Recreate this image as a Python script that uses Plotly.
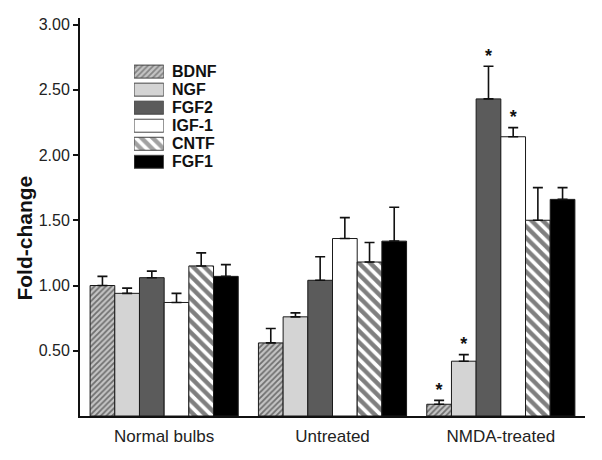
import plotly.graph_objects as go

groups = ["Normal bulbs", "Untreated", "NMDA-treated"]
series = ["BDNF", "NGF", "FGF2", "IGF-1", "CNTF", "FGF1"]

BDNF = [1.00, 0.56, 0.09]
NGF = [0.94, 0.76, 0.42]
FGF2 = [1.06, 1.04, 2.43]
IGF1 = [0.87, 1.36, 2.14]
CNTF = [1.15, 1.18, 1.50]
FGF1 = [1.07, 1.34, 1.66]

BDNF_err = [0.07, 0.11, 0.03]
NGF_err = [0.04, 0.03, 0.05]
FGF2_err = [0.05, 0.18, 0.25]
IGF1_err = [0.07, 0.16, 0.07]
CNTF_err = [0.10, 0.15, 0.25]
FGF1_err = [0.09, 0.26, 0.09]

# significance marks (True = asterisk above error bar)
BDNF_sig = [False, False, True]
NGF_sig = [False, False, True]
FGF2_sig = [False, False, True]
IGF1_sig = [False, False, True]
CNTF_sig = [False, False, False]
FGF1_sig = [False, False, False]

y_ticks = [0.5, 1.0, 1.5, 2.0, 2.5, 3.0]
y_title = "Fold-change"

values = [BDNF, NGF, FGF2, IGF1, CNTF, FGF1]
errors = [BDNF_err, NGF_err, FGF2_err, IGF1_err, CNTF_err, FGF1_err]
sigs = [BDNF_sig, NGF_sig, FGF2_sig, IGF1_sig, CNTF_sig, FGF1_sig]

styles = [
    dict(color="#c4c4c4", pattern=dict(shape="/", fgcolor="#1a1a1a", bgcolor="#c4c4c4", size=4, solidity=0.45)),
    dict(color="#d4d4d4", pattern=dict(shape="")),
    dict(color="#5b5b5b", pattern=dict(shape="")),
    dict(color="#ffffff", pattern=dict(shape="")),
    dict(color="#ffffff", pattern=dict(shape="\\", fgcolor="#000000", bgcolor="#ffffff", size=8, solidity=0.55)),
    dict(color="#000000", pattern=dict(shape="")),
]

font = "Liberation Sans, Arial, sans-serif"
fig = go.Figure()

for name, v, e, st in zip(series, values, errors, styles):
    fig.add_trace(go.Bar(
        x=groups, y=v, name=name, showlegend=False,
        marker=dict(color=st["color"], pattern=st["pattern"],
                    line=dict(color="#1a1a1a", width=1)),
        error_y=dict(type="data", symmetric=False, array=e, arrayminus=[0] * len(e),
                     color="#111111", thickness=1.6, width=5),
    ))

for name, v, e, s in zip(series, values, errors, sigs):
    ys = [vv + ee if ss else None for vv, ee, ss in zip(v, e, s)]
    fig.add_trace(go.Scatter(
        x=groups, y=ys, mode="text", text=["*" if ss else "" for ss in s],
        textposition="top center", showlegend=False, hoverinfo="skip",
        textfont=dict(family=font, size=18, color="#111111", weight="bold"),
    ))

# legend drawn as a small bar chart on its own axes
fig.add_trace(go.Bar(
    y=series, x=[1] * len(series), orientation="h", xaxis="x2", yaxis="y2",
    width=0.72, showlegend=False, hoverinfo="skip",
    marker=dict(
        color=[st["color"] for st in styles],
        pattern=dict(
            shape=[st["pattern"].get("shape", "") for st in styles],
            fgcolor=[st["pattern"].get("fgcolor", "#000") for st in styles],
            bgcolor=[st["pattern"].get("bgcolor", st["color"]) for st in styles],
            size=[st["pattern"].get("size", 8) for st in styles],
            solidity=[st["pattern"].get("solidity", 0.3) for st in styles],
        ),
        line=dict(color="#444444", width=1),
    ),
))

fig.update_layout(
    width=602, height=460,
    margin=dict(l=80, r=17, t=18, b=44),
    paper_bgcolor="white", plot_bgcolor="white",
    barmode="group", bargap=0.12, bargroupgap=0,
    scattermode="group", scattergap=0.12,
    font=dict(family=font, color="#1a1a1a"),
    xaxis=dict(
        domain=[0, 1], showline=True, linecolor="#111111", linewidth=2,
        ticks="", showgrid=False, tickfont=dict(size=17, color="#222"),
        range=[-0.5, 2.5], automargin=False, ticklabelstandoff=4,
    ),
    yaxis=dict(
        domain=[0, 1], range=[0, 3.05], showline=True, linecolor="#111111", linewidth=2,
        tickvals=y_ticks, ticktext=[f"{t:.2f}" for t in y_ticks],
        ticks="outside", ticklen=5, tickwidth=1.5, tickcolor="#111111",
        showgrid=False, zeroline=False, tickfont=dict(size=16, color="#222"),
        automargin=False,
    ),
    xaxis2=dict(domain=[0.107, 0.166], anchor="y2", range=[0, 1], visible=False),
    yaxis2=dict(
        domain=[0.616, 0.888], anchor="x2", type="category", autorange="reversed",
        side="right", showline=False, showgrid=False, zeroline=False,
        tickmode="array", tickvals=series, ticktext=series,
        ticks="outside", ticklen=4, tickcolor="rgba(0,0,0,0)", automargin=False,
        tickfont=dict(size=16, color="#111", family=font, weight="bold"),
    ),
    annotations=[dict(
        text="<b>" + y_title + "</b>", xref="paper", yref="paper",
        x=-0.11, y=0.447, textangle=-90, showarrow=False,
        font=dict(size=21, color="#111", family=font),
        xanchor="center", yanchor="middle",
    )],
)

fig.write_html("out.html", post_script="document.body.style.margin='0';",
               config={"displayModeBar": False})
